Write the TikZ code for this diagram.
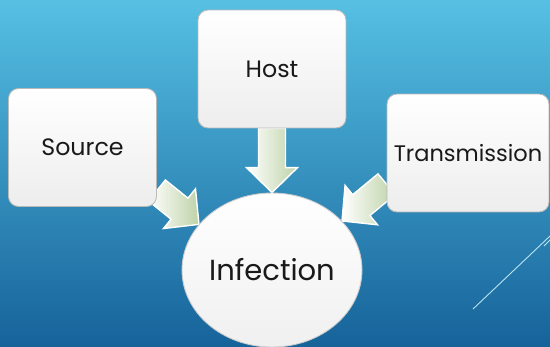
\documentclass[tikz,border=0pt]{standalone}
\usepackage{fontspec}
\setmainfont{Poppins}
\usetikzlibrary{positioning, calc, shapes.geometric}

\definecolor{bgtop}{RGB}{86,192,227}
\definecolor{bgbottom}{RGB}{22,99,154}
\definecolor{arrowgreen}{RGB}{190,210,168}
\definecolor{textgray}{RGB}{25,25,25}

\pgfdeclarelayer{bg}
\pgfdeclarelayer{arrows}
\pgfsetlayers{bg,arrows,main}

\tikzset{
    factor/.style={rectangle, rounded corners=0.2cm, draw=gray!55, line width=0.5pt,
        top color=white, bottom color=gray!14, text=textgray,
        minimum width=2.96cm, minimum height=2.36cm, font=\fontsize{13.5}{16}\selectfont},
    flowarrow/.style={draw=white, line width=0.8pt, line join=miter,
        left color=white, right color=arrowgreen}
}

% block arrow from #1 to #2
\newcommand{\blockarrow}[2]{%
    \coordinate (ba-s) at (#1);
    \coordinate (ba-t) at (#2);
    \coordinate (ba-h) at ($(ba-t)!0.5cm!(ba-s)$);
    \draw[flowarrow] ($(ba-s)!0.27cm!90:(ba-t)$) -- ($(ba-h)!0.27cm!-90:(ba-s)$)
        -- ($(ba-h)!0.51cm!-90:(ba-s)$) -- (ba-t) -- ($(ba-h)!0.51cm!90:(ba-s)$)
        -- ($(ba-h)!0.27cm!90:(ba-s)$) -- ($(ba-s)!0.27cm!-90:(ba-t)$) -- cycle;
}

\begin{document}
\begin{tikzpicture}[x=0.02cm, y=0.02cm]
        \clip (0,0) rectangle (550,346);

        % the background
        \begin{pgfonlayer}{bg}
            \shade[top color=bgtop, bottom color=bgbottom] (0,0) rectangle (550,346);
            \draw[white!60!bgtop, line width=0.5pt] (473,37) -- (550,110);
            \draw[white!60!bgtop, line width=0.5pt] (544,100) -- (552,108);
        \end{pgfonlayer}

        % the factors
        \node[factor] (source) at (82.5,198.5) {Source};
        \node[factor] (host) at (272,277) {Host};
        \node[factor, minimum width=3.24cm, font=\fontsize{12.8}{16}\selectfont]
            (transmission) at (468,193) {Transmission};

        % the result
        \node[ellipse, draw=gray!40, line width=0.5pt, top color=white, bottom color=gray!12,
            text=textgray, inner sep=0pt, minimum width=3.6cm, minimum height=3.08cm,
            font=\fontsize{16.5}{20}\selectfont] (infection) at (272,76) {Infection};

        % the arrows
        \begin{pgfonlayer}{arrows}
            \blockarrow{source.-30}{infection.148}
            \blockarrow{host.south}{infection.north}
            \blockarrow{transmission.201}{infection.35}
        \end{pgfonlayer}
\end{tikzpicture}
\end{document}
